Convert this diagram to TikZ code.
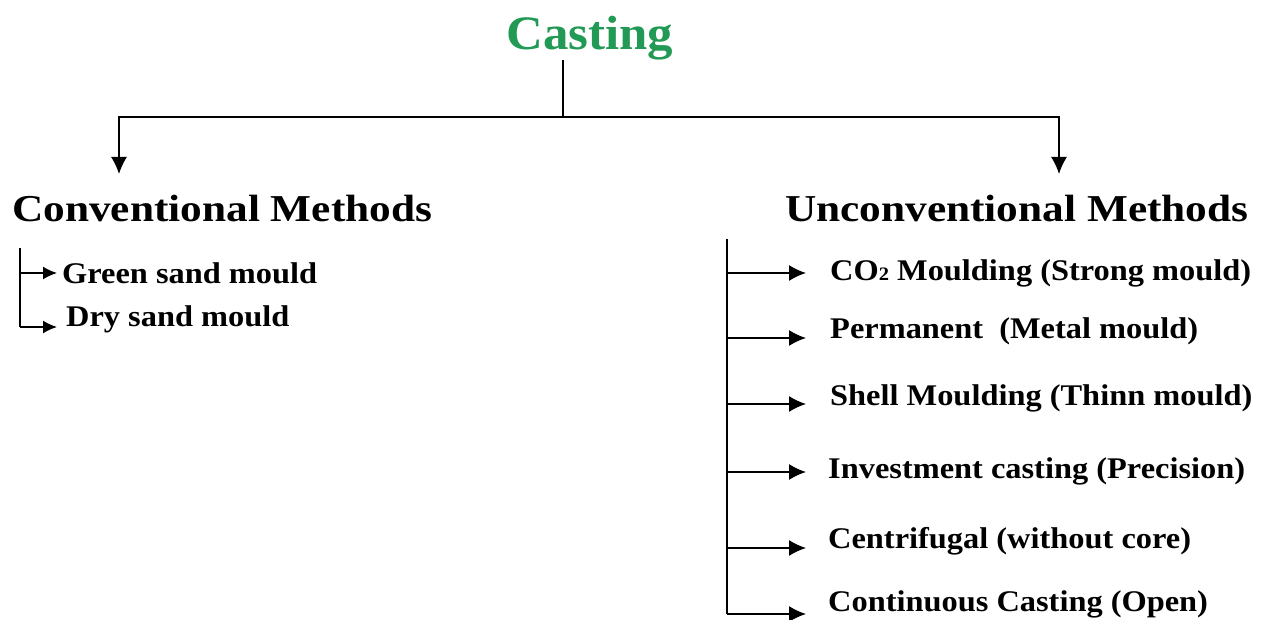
\documentclass[tikz,border=0pt]{standalone}
\usepackage{fontspec}
\setmainfont{Liberation Serif}
\newfontfamily\titlefont{Liberation Serif}[FakeStretch=1.06]
\newfontfamily\headfont{Liberation Serif}[FakeStretch=1.14]
\newfontfamily\itemfont{Liberation Serif}[FakeStretch=1.08]
\usepackage{xcolor}
\usetikzlibrary{arrows.meta}
\definecolor{castgreen}{RGB}{34,153,84}
\newcommand{\smalltwo}{{\fontsize{19}{20}\selectfont 2}}

\tikzset{
  title/.style={font=\titlefont\fontsize{48}{52}\selectfont\bfseries, text=castgreen, inner sep=0pt},
  head/.style={font=\headfont\fontsize{38}{42}\selectfont\bfseries, inner sep=0pt},
  item/.style={font=\itemfont\fontsize{30}{34}\selectfont\bfseries, inner sep=0pt, anchor=west},
  branch/.style={line width=1.6pt, -{Latex[length=17pt,width=16pt]}},
  twig/.style={line width=1.6pt, -{Latex[length=14pt,width=13pt]}},
  trunk/.style={line width=1.6pt}
}

\begin{document}
\begin{tikzpicture}[x=1pt,y=-1pt]
\useasboundingbox (0,0) rectangle (1270,620);

% top of the tree
\node[title] (cast) at (590,38) {Casting};
\node[head, anchor=base west] (conv) at (12,222) {Conventional Methods};
\node[head, anchor=base west] (unconv) at (785,222) {Unconventional Methods};

\coordinate (hub) at (563,117);
\coordinate (lft) at (119,174);
\coordinate (rgt) at (1059,174);
\draw[trunk] (cast.south -| hub) -- (hub);
\draw[branch] (hub) -| (lft);
\draw[branch] (hub) -| (rgt);

% conventional methods
\coordinate (ltop) at (20,248);
\foreach \ya/\yt/\xt/\txt [count=\i] in {273/273/62/Green sand mould, 327/319/66/Dry sand mould}{
  \node[item] (c\i) at (\xt,\yt) {\txt};
  \coordinate (ca\i) at (20,\ya);
  \coordinate (ct\i) at (57,\ya);
  \draw[twig] (ca\i) -- (ct\i);
}
\draw[trunk] (ltop) -- (ca2);

% unconventional methods
\coordinate (rtop) at (727,239);
\foreach \ya/\yt/\xt/\txt [count=\i] in {
    273/273/830/{CO\smalltwo\ Moulding (Strong mould)},
    338/331/830/{Permanent\ \ (Metal mould)},
    404/398/830/{Shell Moulding (Thinn mould)},
    472/471/828/{Investment casting (Precision)},
    548/541/828/{Centrifugal (without core)},
    614/604/828/{Continuous Casting (Open)}}{
  \node[item] (u\i) at (\xt,\yt) {\txt};
  \coordinate (ua\i) at (727,\ya);
  \coordinate (ut\i) at (806,\ya);
  \draw[branch] (ua\i) -- (ut\i);
}
\draw[trunk] (rtop) -- (ua6);

\end{tikzpicture}
\end{document}
